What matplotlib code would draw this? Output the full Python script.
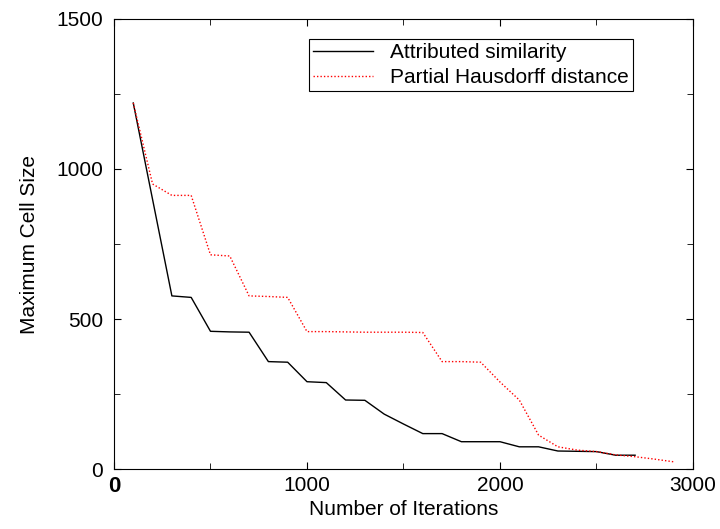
import matplotlib
matplotlib.use("Agg")
import matplotlib.pyplot as plt
from matplotlib.ticker import MultipleLocator

plt.rcParams['font.family'] = ['Liberation Sans', 'DejaVu Sans']

# Attributed similarity
attr_x = [100, 300, 400, 500, 600, 700, 800, 900, 1000, 1100, 1200, 1300, 1400,
          1500, 1600, 1700, 1800, 1900, 2000, 2100, 2200, 2300, 2400, 2500, 2600, 2700]
attr_y = [1220, 577, 572, 459, 457, 456, 358, 356, 291, 288, 230, 229, 183,
          150, 118, 118, 91, 91, 91, 74, 74, 60, 59, 58, 46, 46]

# Partial Hausdorff distance
haus_x = [100, 200, 300, 400, 500, 600, 700, 800, 900, 1000, 1100, 1200, 1300, 1400,
          1500, 1600, 1700, 1800, 1900, 2000, 2100, 2200, 2300, 2400, 2500, 2600,
          2700, 2800, 2900]
haus_y = [1220, 950, 912, 912, 714, 710, 577, 575, 572, 458, 458, 457, 456, 456,
          456, 455, 358, 358, 356, 290, 230, 113, 74, 63, 58, 47, 41, 33, 24]

fig = plt.figure(figsize=(7.2, 5.29), dpi=100)
ax = fig.add_axes([0.1583, 0.1134, 0.8042, 0.8507])

ax.plot(attr_x, attr_y, color='black', linewidth=1.0, label='Attributed similarity')
ax.plot(haus_x, haus_y, color='red', linewidth=1.0, linestyle=(0, (1, 1.5)),
        label='Partial Hausdorff distance')

ax.set_xlim(0, 3000)
ax.set_ylim(0, 1500)
ax.xaxis.set_major_locator(MultipleLocator(1000))
ax.xaxis.set_minor_locator(MultipleLocator(500))
ax.yaxis.set_major_locator(MultipleLocator(500))
ax.yaxis.set_minor_locator(MultipleLocator(250))
ax.tick_params(which='both', direction='in', top=True, right=True, labelsize=15)
ax.tick_params(which='major', length=5)
ax.tick_params(which='minor', length=4)
ax.tick_params(axis='x', pad=5)
ax.tick_params(axis='y', pad=8)

ax.set_xticks([0, 1000, 2000, 3000])
ax.set_xticklabels(['0', '1000', '2000', '3000'])
ax.get_xticklabels()[0].set_fontweight('bold')
ax.get_xticklabels()[0].set_fontsize(16)

ax.set_xlabel('Number of Iterations', fontsize=15, labelpad=2)
ax.set_ylabel('Maximum Cell Size', fontsize=15, labelpad=12)

leg = ax.legend(loc='upper right', bbox_to_anchor=(0.896, 0.956), borderaxespad=0,
                fontsize=15, fancybox=False, edgecolor='black', framealpha=1,
                handlelength=2.9, borderpad=0.2, labelspacing=0.3,
                handletextpad=0.8)
leg.get_frame().set_linewidth(0.8)

fig.savefig('out.png', dpi=100)
